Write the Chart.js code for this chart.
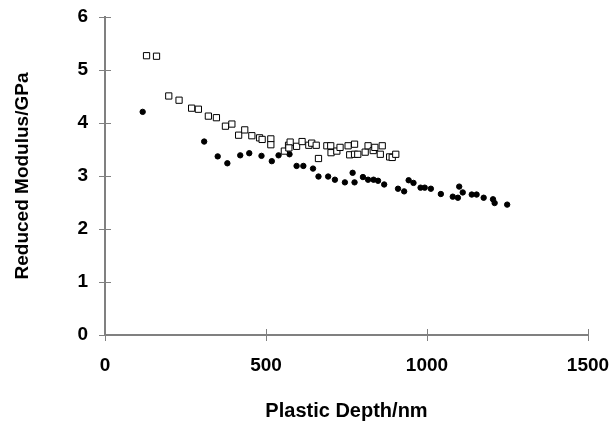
<!DOCTYPE html>
<html>
<head>
<meta charset="utf-8">
<script src="https://cdn.jsdelivr.net/npm/chart.js@4/dist/chart.umd.min.js"></script>
<style>
html,body{margin:0;padding:0;background:#fff;}
#wrap{width:613px;height:421px;position:relative;}
</style>
</head>
<body>
<div id="wrap"><canvas id="c" width="613" height="421"></canvas></div>
<script>
// Open squares series
const squareDepth = [129,160,198,230,269,290,321,346,374,394,415,434,456,480,488,515,515,557,570,575,571,595,612,633,642,656,663,689,701,702,720,730,755,760,775,775,785,808,817,833,838,855,861,884,892,903];
const squareModulus = [5.27,5.26,4.51,4.43,4.28,4.26,4.13,4.10,3.94,3.98,3.77,3.87,3.76,3.72,3.69,3.70,3.59,3.47,3.58,3.64,3.53,3.56,3.65,3.58,3.62,3.58,3.33,3.57,3.57,3.44,3.47,3.54,3.57,3.40,3.60,3.41,3.41,3.45,3.57,3.48,3.54,3.41,3.57,3.36,3.35,3.41];
// Filled circles series
const circleDepth = [117,308,350,380,420,448,486,518,539,573,595,616,646,663,693,714,745,769,775,801,817,834,848,867,910,929,943,958,980,993,1012,1043,1080,1096,1100,1111,1139,1154,1176,1205,1210,1249];
const circleModulus = [4.21,3.65,3.37,3.24,3.39,3.43,3.38,3.28,3.39,3.41,3.19,3.19,3.14,2.99,2.99,2.93,2.88,3.06,2.88,2.98,2.93,2.93,2.91,2.84,2.76,2.71,2.92,2.87,2.78,2.78,2.76,2.66,2.61,2.59,2.80,2.69,2.65,2.65,2.59,2.56,2.49,2.46];
const xTicks = [0,500,1000,1500];
const yTicks = [0,1,2,3,4,5,6];
const xTitle = 'Plastic Depth/nm';
const yTitle = 'Reduced Modulus/GPa';

const toPts = (xs, ys) => xs.map((x,i)=>({x:x,y:ys[i]}));
const axisColor = '#808080';
const tickFont = {family:'"Liberation Sans", Arial, sans-serif', size:19, weight:'bold'};
const titleFont = {family:'"Liberation Sans", Arial, sans-serif', size:20, weight:'bold', lineHeight:1};
const yTitleFont = {family:'"Liberation Sans", Arial, sans-serif', size:19, weight:'bold', lineHeight:1};

const crossTicks = {
  id:'crossTicks',
  afterDraw(chart){
    const ctx = chart.ctx, xs = chart.scales.x, ys = chart.scales.y;
    ctx.save();
    ctx.strokeStyle = axisColor; ctx.lineWidth = 1;
    xTicks.forEach(v=>{
      const px = Math.round(xs.getPixelForValue(v))+0.5;
      ctx.beginPath(); ctx.moveTo(px, ys.bottom-6); ctx.lineTo(px, ys.bottom+6); ctx.stroke();
    });
    yTicks.forEach(v=>{
      const py = Math.round(ys.getPixelForValue(v))+0.5;
      ctx.beginPath(); ctx.moveTo(xs.left-6, py); ctx.lineTo(xs.left+6, py); ctx.stroke();
    });
    ctx.restore();
  }
};

new Chart(document.getElementById('c'), {
  type:'scatter',
  data:{datasets:[
    {label:'open', data:toPts(squareDepth, squareModulus), pointStyle:'rect', pointRadius:4.4, borderColor:'#000', backgroundColor:'#fff', borderWidth:1},
    {label:'filled', data:toPts(circleDepth, circleModulus), pointStyle:'circle', pointRadius:2.7, borderColor:'#000', backgroundColor:'#000', borderWidth:1}
  ]},
  options:{
    responsive:false, animation:false,
    layout:{padding:{top:17, right:25, left:0, bottom:0}},
    plugins:{legend:{display:false}, tooltip:{enabled:false}},
    scales:{
      x:{type:'linear', min:0, max:1500,
        afterBuildTicks(s){ s.ticks = xTicks.map(v=>({value:v})); },
        afterFit(s){ s.height = 86; s.paddingLeft = 0; s.paddingRight = 0; },
        grid:{display:false},
        border:{display:true, color:axisColor, width:2},
        ticks:{padding:11, color:'#000', font:tickFont, maxRotation:0, callback:(v)=>String(v)},
        title:{display:true, text:xTitle, color:'#000', font:titleFont, padding:0}
      },
      y:{type:'linear', min:0, max:6,
        afterBuildTicks(s){ s.ticks = yTicks.map(v=>({value:v})); },
        afterFit(s){ s.width = 105; s.paddingTop = 0; s.paddingBottom = 0; },
        grid:{display:false},
        border:{display:true, color:axisColor, width:2},
        ticks:{padding:9, color:'#000', font:tickFont, callback:(v)=>String(v)},
        title:{display:true, text:yTitle, color:'#000', font:yTitleFont, padding:{top:13,bottom:0}}
      }
    }
  },
  plugins:[crossTicks]
});
</script>
</body>
</html>
